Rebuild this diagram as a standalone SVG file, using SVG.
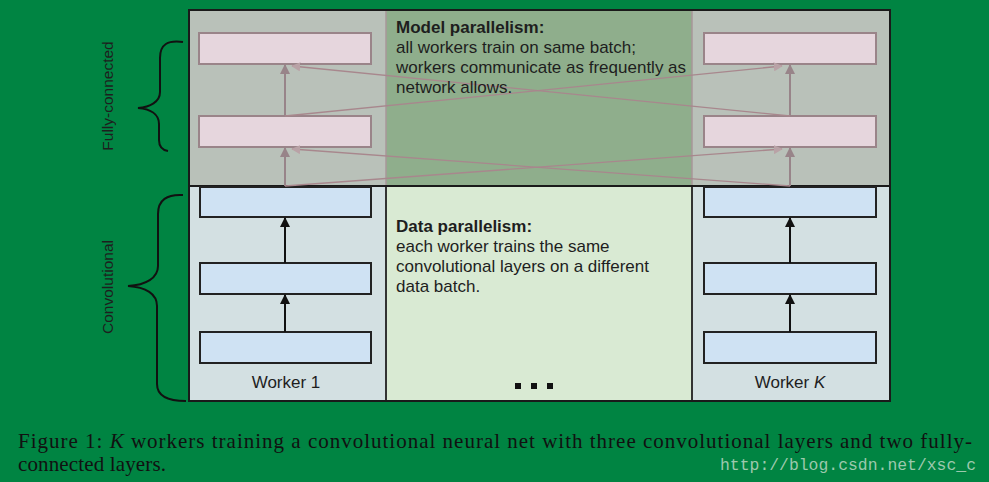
<svg xmlns="http://www.w3.org/2000/svg" width="989" height="482" viewBox="0 0 989 482">
<defs>
<style>
.t{font-family:"Liberation Sans",Arial,sans-serif;font-size:17px;fill:#1e1e1e}
.r{font-size:15.5px}
.b{font-weight:bold}
.blue{fill:#cfe2f3;stroke:#222;stroke-width:2}
.pink{fill:#e6d6dd;stroke:#9a8489;stroke-width:2}
.ka{stroke:#111;stroke-width:2;fill:none}
.pa{stroke:#988489;stroke-width:2;fill:none}
.xl{stroke:#a8878d;stroke-width:1.3;fill:none}
.brace{stroke:#111;stroke-width:2;fill:none}
.cap{font-family:"Liberation Serif","Times New Roman",serif;font-size:21px;fill:#111}
</style>
<marker id="ak" viewBox="0 0 10 10" refX="9" refY="5" markerWidth="5" markerHeight="5" orient="auto" markerUnits="strokeWidth"><path d="M0,0L10,5L0,10z" fill="#111"/></marker>
<marker id="ap" viewBox="0 0 10 10" refX="9" refY="5" markerWidth="5" markerHeight="5" orient="auto" markerUnits="strokeWidth"><path d="M0,0L10,5L0,10z" fill="#988489"/></marker>
<marker id="ax" viewBox="0 0 10 10" refX="9" refY="5" markerWidth="7" markerHeight="7" orient="auto" markerUnits="strokeWidth"><path d="M0,0L10,5L0,10z" fill="#b9a2a6"/></marker>
</defs>
<rect width="989" height="482" fill="#008442"/>

<g id="panels">
<rect x="189" y="10" width="197" height="176" fill="#b9c1b9"/>
<rect x="386" y="10" width="306" height="176" fill="#8fae8c"/>
<rect x="692" y="10" width="198" height="176" fill="#b9c1b9"/>
<rect x="189" y="186" width="197" height="215" fill="#d3e0e2"/>
<rect x="386" y="186" width="306" height="215" fill="#d9ead3"/>
<rect x="692" y="186" width="198" height="215" fill="#d3e0e2"/>
<line x1="386" y1="10" x2="386" y2="186" stroke="#a8969a" stroke-width="1.5"/>
<line x1="692" y1="10" x2="692" y2="186" stroke="#a8969a" stroke-width="1.5"/>
<line x1="386" y1="186" x2="386" y2="401" stroke="#333" stroke-width="2"/>
<line x1="692" y1="186" x2="692" y2="401" stroke="#333" stroke-width="2"/>
<line x1="189" y1="186" x2="890" y2="186" stroke="#1a1a1a" stroke-width="2"/>
<rect x="189" y="10" width="701" height="391" fill="none" stroke="#1a1a1a" stroke-width="2"/>
</g>

<g id="worker1">
<rect id="w1fc2" class="pink" x="199" y="33" width="172" height="31"/>
<rect id="w1fc1" class="pink" x="199" y="116" width="172" height="31"/>
<rect id="w1c3" class="blue" x="200" y="187" width="171" height="30"/>
<rect id="w1c2" class="blue" x="200" y="263" width="171" height="31"/>
<rect id="w1c1" class="blue" x="200" y="332" width="171" height="31"/>
<text class="t" x="286" y="388" text-anchor="middle">Worker 1</text>
</g>

<g id="workerK">
<rect id="wkfc2" class="pink" x="704" y="33" width="172" height="31"/>
<rect id="wkfc1" class="pink" x="704" y="116" width="172" height="31"/>
<rect id="wkc3" class="blue" x="704" y="187" width="172" height="30"/>
<rect id="wkc2" class="blue" x="704" y="263" width="172" height="31"/>
<rect id="wkc1" class="blue" x="704" y="332" width="172" height="31"/>
<text class="t" x="790" y="388" text-anchor="middle">Worker <tspan font-style="italic">K</tspan></text>
</g>

<g id="connectors">
<line class="ka" x1="285" y1="332" x2="285" y2="295" marker-end="url(#ak)"/>
<line class="ka" x1="285" y1="263" x2="285" y2="218" marker-end="url(#ak)"/>
<line class="ka" x1="790" y1="332" x2="790" y2="295" marker-end="url(#ak)"/>
<line class="ka" x1="790" y1="263" x2="790" y2="218" marker-end="url(#ak)"/>
<line class="pa" x1="285" y1="186" x2="285" y2="148" marker-end="url(#ap)"/>
<line class="pa" x1="285" y1="116" x2="285" y2="65" marker-end="url(#ap)"/>
<line class="pa" x1="790" y1="186" x2="790" y2="148" marker-end="url(#ap)"/>
<line class="pa" x1="790" y1="116" x2="790" y2="65" marker-end="url(#ap)"/>
<line class="xl" x1="790" y1="116" x2="292" y2="66" marker-end="url(#ax)"/>
<line class="xl" x1="285" y1="116" x2="782" y2="66" marker-end="url(#ax)"/>
<line class="xl" x1="790" y1="186" x2="292" y2="149" marker-end="url(#ax)"/>
<line class="xl" x1="285" y1="186" x2="782" y2="149" marker-end="url(#ax)"/>
</g>

<g id="model-label">
<text class="t" x="396" y="33"><tspan class="b">Model parallelism:</tspan><tspan x="396" dy="20">all workers train on same batch;</tspan><tspan x="396" dy="20">workers communicate as frequently as</tspan><tspan x="396" dy="20">network allows.</tspan></text>
</g>

<g id="data-label">
<text class="t" x="396" y="232"><tspan class="b">Data parallelism:</tspan><tspan x="396" dy="20">each worker trains the same</tspan><tspan x="396" dy="20">convolutional layers on a different</tspan><tspan x="396" dy="20">data batch.</tspan></text>
<rect x="515" y="383" width="6" height="6" fill="#111"/>
<rect x="531" y="383" width="6" height="6" fill="#111"/>
<rect x="547" y="383" width="6" height="6" fill="#111"/>
</g>

<g id="braces">
<path class="brace" d="M183,42 C168,40 160,44 160,58 L160,92 C160,102 150,107 138,108 C150,109 159,114 159,124 L159,140 C159,147 162,150 168,151"/>
<text class="t r" transform="translate(113,96) rotate(-90)" text-anchor="middle">Fully-connected</text>
<path class="brace" d="M183,195 C167,194 158,200 158,214 L158,266 C158,278 146,285 128,286 C146,287 157,294 157,306 L157,384 C157,396 168,401 186,401"/>
<text class="t r" transform="translate(113,287) rotate(-90)" text-anchor="middle">Convolutional</text>
</g>

<g id="caption">
<text class="cap" x="18" y="448" textLength="954" lengthAdjust="spacing">Figure 1:  <tspan font-style="italic">K</tspan> workers training a convolutional neural net with three convolutional layers and two fully-</text>
<text class="cap" x="18" y="471" textLength="148" lengthAdjust="spacing">connected layers.</text>
<text x="720" y="470" font-family="Liberation Mono,monospace" font-size="16" fill="#9cc9ad" textLength="256" lengthAdjust="spacingAndGlyphs">http://blog.csdn.net/xsc_c</text>
</g>
</svg>
